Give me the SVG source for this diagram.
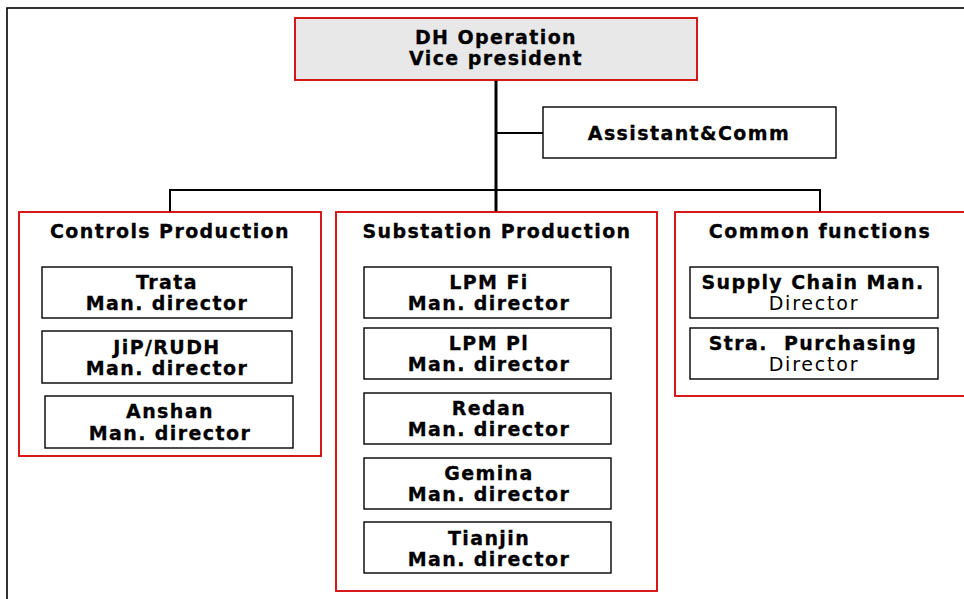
<svg xmlns="http://www.w3.org/2000/svg" width="964" height="599" viewBox="0 0 964 599">
<style>
.frame{fill:none;stroke:#000;stroke-width:1.6}
.grp{fill:#fff;stroke:#d40000;stroke-width:1.8}
.top{fill:#e8e8e8;stroke:#d40000;stroke-width:1.8}
.box{fill:#fff;stroke:#000;stroke-width:1.4}
.con{fill:none;stroke:#000;stroke-width:2}
.trunk{fill:none;stroke:#000;stroke-width:3}
text{font-family:"DejaVu Sans","Verdana",sans-serif;font-size:19px;fill:#000;text-anchor:middle;letter-spacing:1.4px}
.b{font-weight:bold;stroke:#000;stroke-width:0.3}
.n{font-weight:normal;letter-spacing:1.8px}
</style>
<rect class="frame" x="7" y="8" width="1000" height="700"/>
<g id="connectors">
<line class="trunk" x1="496" y1="80" x2="496" y2="212"/>
<line class="con" x1="496" y1="133" x2="543" y2="133"/>
<polyline class="con" points="170,212 170,190 820,190 820,212"/>
</g>
<g id="vp">
<rect class="top" x="295" y="18" width="402" height="62"/>
<text class="b" x="496" y="44">DH Operation</text>
<text class="b" x="496" y="65">Vice president</text>
</g>
<g id="assistant">
<rect class="box" x="543" y="107" width="293" height="51"/>
<text class="b" x="689" y="140">Assistant&amp;Comm</text>
</g>
<g id="controls">
<rect class="grp" x="19" y="212" width="302" height="244"/>
<text class="b" x="170" y="238">Controls Production</text>
</g>
<g id="trata">
<rect class="box" x="42" y="267" width="250" height="51"/>
<text class="b" x="167" y="289">Trata</text>
<text class="b" x="167" y="310">Man. director</text>
</g>
<g id="jip">
<rect class="box" x="42" y="331" width="250" height="52"/>
<text class="b" x="167" y="354">JiP/RUDH</text>
<text class="b" x="167" y="375">Man. director</text>
</g>
<g id="anshan">
<rect class="box" x="45" y="396" width="248" height="52"/>
<text class="b" x="170" y="418">Anshan</text>
<text class="b" x="170" y="440">Man. director</text>
</g>
<g id="substation">
<rect class="grp" x="336" y="212" width="321" height="379"/>
<text class="b" x="497" y="238">Substation Production</text>
</g>
<g id="lpmfi">
<rect class="box" x="364" y="267" width="247" height="51"/>
<text class="b" x="489" y="289">LPM Fi</text>
<text class="b" x="489" y="310">Man. director</text>
</g>
<g id="lpmpl">
<rect class="box" x="364" y="328" width="247" height="51"/>
<text class="b" x="489" y="350">LPM Pl</text>
<text class="b" x="489" y="371">Man. director</text>
</g>
<g id="redan">
<rect class="box" x="364" y="393" width="247" height="51"/>
<text class="b" x="489" y="415">Redan</text>
<text class="b" x="489" y="436">Man. director</text>
</g>
<g id="gemina">
<rect class="box" x="364" y="458" width="247" height="51"/>
<text class="b" x="489" y="480">Gemina</text>
<text class="b" x="489" y="501">Man. director</text>
</g>
<g id="tianjin">
<rect class="box" x="364" y="522" width="247" height="51"/>
<text class="b" x="489" y="545">Tianjin</text>
<text class="b" x="489" y="566">Man. director</text>
</g>
<g id="common">
<rect class="grp" x="675" y="212" width="300" height="184"/>
<text class="b" x="820" y="238">Common functions</text>
</g>
<g id="supply">
<rect class="box" x="690" y="267" width="248" height="51"/>
<text class="b" x="813" y="289">Supply Chain Man.</text>
<text class="n" x="814" y="310">Director</text>
</g>
<g id="purchasing">
<rect class="box" x="690" y="328" width="248" height="51"/>
<text class="b" x="813" y="350" xml:space="preserve">Stra.  Purchasing</text>
<text class="n" x="814" y="371">Director</text>
</g>
</svg>
